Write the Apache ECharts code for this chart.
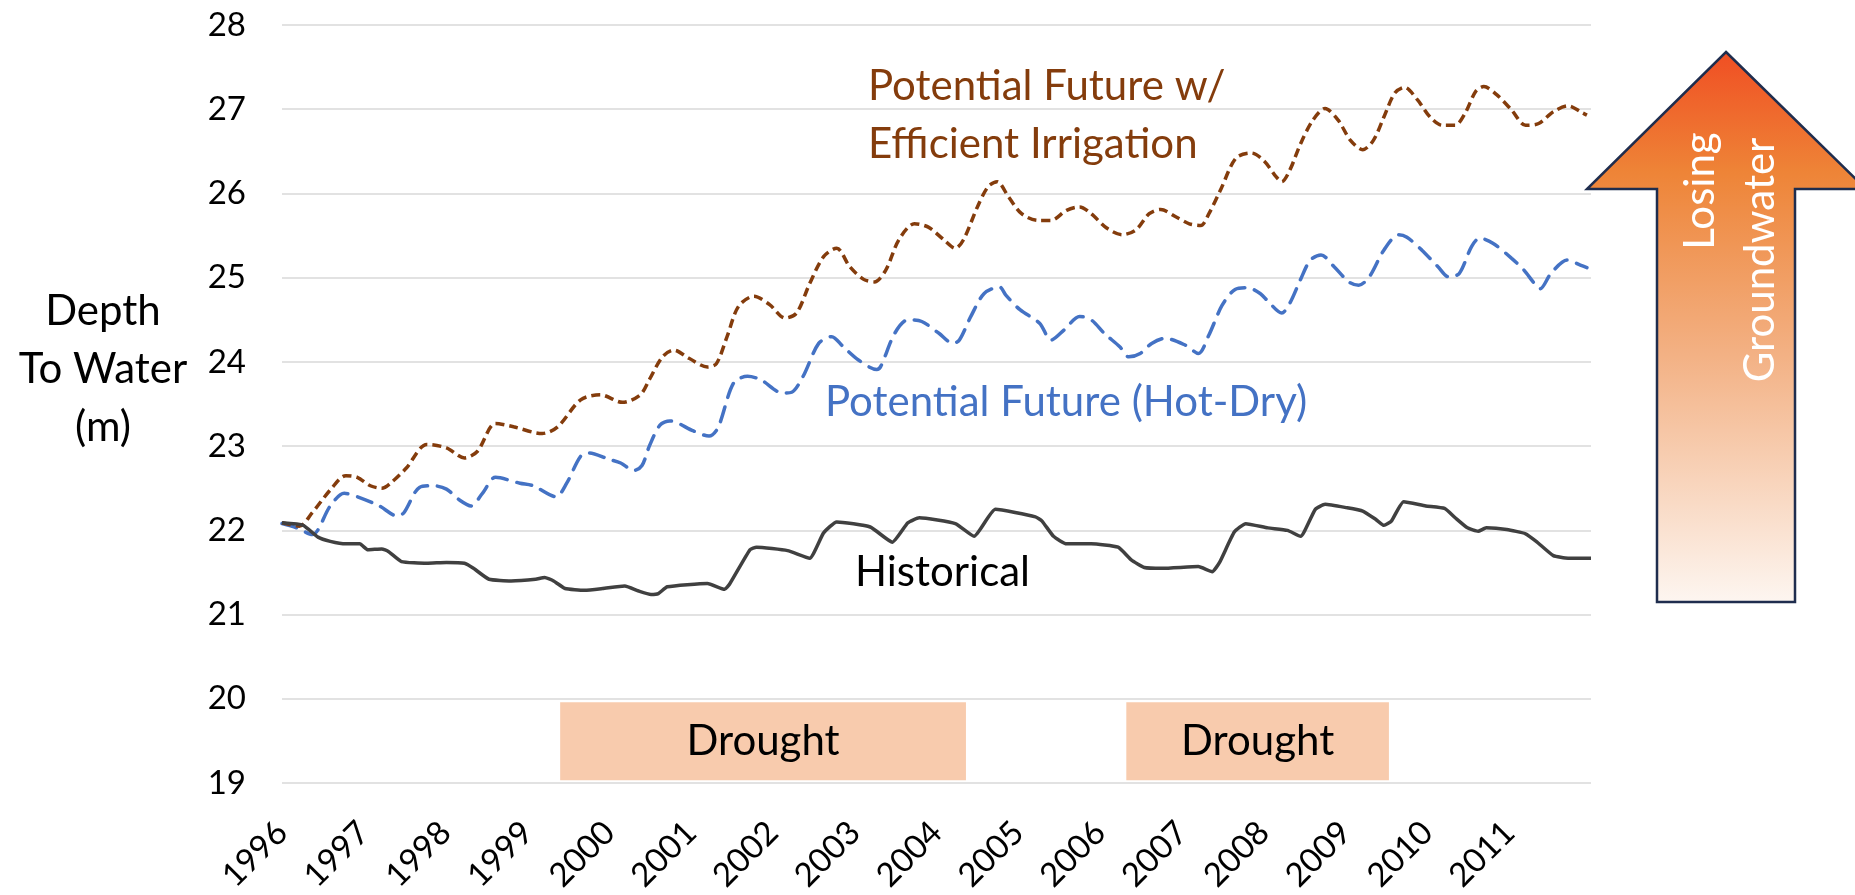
<!DOCTYPE html>
<html>
<head>
<meta charset="utf-8">
<title>Depth To Water</title>
<script src="https://cdn.jsdelivr.net/npm/echarts@6/dist/echarts.min.js"></script>
<style>
  html, body { margin: 0; padding: 0; background: #fff; }
  #chart { width: 1855px; height: 895px; }
</style>
</head>
<body>
<div id="chart"></div>
<script>
// tick labels on the time axis
const yearLabels = ['1996', '1997', '1998', '1999', '2000', '2001', '2002', '2003',
  '2004', '2005', '2006', '2007', '2008', '2009', '2010', '2011'];

// Historical depth to water (m), x in decimal years
const histX = [1996.00, 1996.26, 1996.44, 1996.59, 1996.78, 1996.95, 1997.05, 1997.22, 1997.30, 1997.46,
  1997.77, 1998.01, 1998.23, 1998.34, 1998.53, 1998.80, 1999.10, 1999.21, 1999.32, 1999.46,
  1999.70, 1999.92, 2000.19, 2000.36, 2000.51, 2000.60, 2000.71, 2001.20, 2001.41, 2001.47,
  2001.72, 2001.80, 2002.18, 2002.45, 2002.62, 2002.78, 2003.19, 2003.46, 2003.65, 2003.79,
  2004.23, 2004.46, 2004.72, 2005.21, 2005.29, 2005.43, 2005.59, 2005.89, 2006.22, 2006.38,
  2006.54, 2006.76, 2007.20, 2007.37, 2007.46, 2007.64, 2007.78, 2008.05, 2008.29, 2008.45,
  2008.63, 2008.75, 2009.01, 2009.21, 2009.37, 2009.47, 2009.56, 2009.71, 2009.98, 2010.21,
  2010.34, 2010.49, 2010.62, 2010.72, 2010.97, 2011.20, 2011.33, 2011.54, 2011.72, 2012.00];
const histDepth = [22.09, 22.06, 21.92, 21.87, 21.84, 21.84, 21.77, 21.78, 21.75, 21.63,
  21.61, 21.62, 21.61, 21.55, 21.42, 21.40, 21.42, 21.44, 21.40, 21.31,
  21.29, 21.31, 21.34, 21.28, 21.24, 21.25, 21.33, 21.37, 21.30, 21.36,
  21.77, 21.80, 21.76, 21.67, 21.97, 22.10, 22.04, 21.86, 22.09, 22.15,
  22.08, 21.93, 22.25, 22.16, 22.11, 21.93, 21.84, 21.84, 21.80, 21.65,
  21.56, 21.55, 21.57, 21.51, 21.62, 21.98, 22.08, 22.03, 22.00, 21.93,
  22.25, 22.31, 22.27, 22.23, 22.13, 22.06, 22.11, 22.34, 22.29, 22.26,
  22.15, 22.03, 21.99, 22.03, 22.01, 21.96, 21.87, 21.70, 21.67, 21.67];

// Potential future (hot-dry)
const hotDryX = [1996.00, 1996.18, 1996.37, 1996.59, 1996.76, 1996.92, 1997.19, 1997.41, 1997.49, 1997.68,
  1997.85, 1998.01, 1998.17, 1998.31, 1998.45, 1998.61, 1998.91, 1999.07, 1999.35, 1999.48,
  1999.65, 1999.76, 1999.98, 2000.14, 2000.30, 2000.40, 2000.49, 2000.62, 2000.74, 2001.03,
  2001.22, 2001.33, 2001.52, 2001.69, 2001.85, 2002.12, 2002.23, 2002.37, 2002.56, 2002.72,
  2002.86, 2003.05, 2003.27, 2003.32, 2003.49, 2003.65, 2003.82, 2004.03, 2004.20, 2004.28,
  2004.42, 2004.58, 2004.77, 2004.85, 2005.02, 2005.26, 2005.40, 2005.56, 2005.75, 2005.89,
  2006.05, 2006.24, 2006.35, 2006.49, 2006.63, 2006.79, 2007.04, 2007.20, 2007.33, 2007.49,
  2007.65, 2007.80, 2007.96, 2008.06, 2008.22, 2008.32, 2008.45, 2008.57, 2008.70, 2008.86,
  2009.04, 2009.16, 2009.29, 2009.47, 2009.65, 2009.75, 2009.93, 2010.13, 2010.26, 2010.39,
  2010.54, 2010.64, 2010.80, 2011.03, 2011.18, 2011.31, 2011.38, 2011.51, 2011.71, 2011.87, 2011.95];
const hotDryDepth = [22.08, 22.03, 21.95, 22.29, 22.44, 22.40, 22.29, 22.17, 22.21, 22.51,
  22.53, 22.49, 22.36, 22.29, 22.44, 22.63, 22.56, 22.53, 22.40, 22.56,
  22.88, 22.92, 22.85, 22.80, 22.71, 22.77, 23.00, 23.25, 23.30, 23.18,
  23.12, 23.22, 23.75, 23.83, 23.79, 23.63, 23.64, 23.83, 24.22, 24.30,
  24.18, 24.02, 23.91, 23.95, 24.34, 24.50, 24.48, 24.34, 24.22, 24.26,
  24.54, 24.81, 24.89, 24.79, 24.62, 24.46, 24.26, 24.38, 24.54, 24.50,
  24.34, 24.18, 24.06, 24.10, 24.22, 24.28, 24.20, 24.10, 24.32, 24.67,
  24.86, 24.88, 24.81, 24.71, 24.58, 24.70, 24.98, 25.21, 25.27, 25.13,
  24.95, 24.91, 25.01, 25.33, 25.51, 25.48, 25.33, 25.13, 25.01, 25.05,
  25.37, 25.47, 25.41, 25.23, 25.09, 24.93, 24.87, 25.05, 25.21, 25.15, 25.12];

// Potential future w/ efficient irrigation
const effX = [1996.00, 1996.21, 1996.37, 1996.59, 1996.78, 1996.92, 1997.08, 1997.22, 1997.35, 1997.52,
  1997.77, 1998.01, 1998.23, 1998.39, 1998.61, 1998.83, 1999.18, 1999.37, 1999.65, 1999.89,
  2000.16, 2000.38, 2000.49, 2000.65, 2000.79, 2000.98, 2001.20, 2001.31, 2001.44, 2001.58,
  2001.77, 2001.96, 2002.15, 2002.29, 2002.45, 2002.62, 2002.78, 2002.94, 2003.11, 2003.24,
  2003.38, 2003.54, 2003.73, 2003.90, 2004.09, 2004.23, 2004.33, 2004.50, 2004.63, 2004.74,
  2004.88, 2005.04, 2005.24, 2005.40, 2005.59, 2005.75, 2005.89, 2006.08, 2006.27, 2006.44,
  2006.60, 2006.74, 2006.93, 2007.09, 2007.23, 2007.33, 2007.48, 2007.66, 2007.85, 2008.01,
  2008.15, 2008.22, 2008.32, 2008.45, 2008.60, 2008.75, 2008.91, 2009.06, 2009.21, 2009.34,
  2009.47, 2009.60, 2009.72, 2009.88, 2010.03, 2010.18, 2010.34, 2010.46, 2010.59, 2010.69,
  2010.85, 2011.03, 2011.20, 2011.36, 2011.54, 2011.72, 2011.89, 2011.95];
const effDepth = [22.09, 22.05, 22.21, 22.48, 22.65, 22.63, 22.53, 22.50, 22.58, 22.74,
  23.02, 22.98, 22.86, 22.94, 23.27, 23.23, 23.15, 23.23, 23.55, 23.61,
  23.52, 23.61, 23.79, 24.06, 24.14, 24.04, 23.94, 23.98, 24.30, 24.66,
  24.78, 24.68, 24.52, 24.58, 24.93, 25.25, 25.35, 25.13, 24.98, 24.95,
  25.09, 25.45, 25.64, 25.60, 25.45, 25.35, 25.45, 25.84, 26.08, 26.14,
  25.96, 25.76, 25.68, 25.68, 25.80, 25.84, 25.76, 25.59, 25.51, 25.57,
  25.76, 25.81, 25.72, 25.64, 25.62, 25.76, 26.06, 26.42, 26.48, 26.38,
  26.20, 26.14, 26.28, 26.59, 26.87, 27.01, 26.87, 26.63, 26.52, 26.63,
  26.91, 27.19, 27.26, 27.11, 26.91, 26.81, 26.81, 26.95, 27.21, 27.27,
  27.17, 26.99, 26.81, 26.83, 26.97, 27.04, 26.96, 26.93];

// drought periods (decimal years)
const droughtStart = [1999.40, 2006.32];
const droughtEnd = [2004.36, 2009.53];

const FONT = 'Lato';
const pair = (xs, ys) => xs.map((x, i) => [x, ys[i]]);

const chart = echarts.init(document.getElementById('chart'));

const bigText = (text, x, y, color, extra) => ({
  type: 'text',
  x: x,
  y: y,
  silent: true,
  style: Object.assign({
    text: text,
    fill: color,
    fontSize: 42,
    fontFamily: FONT,
    align: 'left',
    verticalAlign: 'middle'
  }, extra || {})
});

const option = {
  animation: false,
  grid: { left: 282, right: 264, top: 25, bottom: 111 },
  xAxis: {
    type: 'value',
    min: 1996,
    max: 2012,
    interval: 1,
    axisLine: { show: false },
    axisTick: { show: false },
    splitLine: { show: false },
    axisLabel: {
      rotate: 45,
      margin: 44,
      fontSize: 33,
      fontFamily: FONT,
      color: '#000',
      formatter: v => yearLabels[v - 1996] || ''
    }
  },
  yAxis: {
    type: 'value',
    min: 19,
    max: 28,
    interval: 1,
    axisLine: { show: false },
    axisTick: { show: false },
    axisLabel: { margin: 36, fontSize: 33, fontFamily: FONT, color: '#000' },
    splitLine: { lineStyle: { color: '#d9d9d9', width: 1.5 } }
  },
  series: [
    {
      name: 'Historical',
      type: 'line',
      data: pair(histX, histDepth),
      showSymbol: false,
      smooth: 0.15,
      lineStyle: { color: '#404040', width: 3.5 },
      z: 4,
      markArea: {
        silent: true,
        itemStyle: { color: '#f8cbad' },
        label: {
          show: true,
          position: 'inside',
          formatter: 'Drought',
          fontSize: 42,
          fontFamily: FONT,
          color: '#000'
        },
        data: droughtStart.map((s, i) => [
          { xAxis: s, yAxis: 19.035 },
          { xAxis: droughtEnd[i], yAxis: 19.96 }
        ])
      }
    },
    {
      name: 'Potential Future (Hot-Dry)',
      type: 'line',
      data: pair(hotDryX, hotDryDepth),
      showSymbol: false,
      smooth: 0.3,
      lineStyle: { color: '#4472c4', width: 3.5, type: [15, 10], cap: 'round' },
      z: 3
    },
    {
      name: 'Potential Future w/ Efficient Irrigation',
      type: 'line',
      data: pair(effX, effDepth),
      showSymbol: false,
      smooth: 0.3,
      lineStyle: { color: '#843c0c', width: 3.5, type: [9, 5] },
      z: 3
    }
  ],
  graphic: [
    // y axis title
    bigText('Depth', 103, 311, '#000', { align: 'center' }),
    bigText('To Water', 103, 369, '#000', { align: 'center' }),
    bigText('(m)', 103, 427, '#000', { align: 'center' }),
    // series annotations
    bigText('Potential Future w/', 868, 86, '#843c0c'),
    bigText('Efficient Irrigation', 868, 144, '#843c0c'),
    bigText('Potential Future (Hot-Dry)', 825, 402, '#4472c4'),
    bigText('Historical', 855, 572, '#000'),
    // "losing groundwater" arrow
    {
      type: 'polygon',
      silent: true,
      shape: {
        points: [[1726, 52], [1866, 189], [1795, 189], [1795, 602],
          [1657, 602], [1657, 189], [1587, 189]]
      },
      style: {
        fill: new echarts.graphic.LinearGradient(0, 0, 0, 1, [
          { offset: 0, color: '#f04e23' },
          { offset: 0.22, color: '#ee8437' },
          { offset: 0.55, color: '#f3b184' },
          { offset: 1, color: '#fdf6f1' }
        ]),
        stroke: '#1f2d4e',
        lineWidth: 2.5
      }
    },
    bigText('Losing', 1700, 191, '#fff', { align: 'center' }),
    bigText('Groundwater', 1760, 260, '#fff', { align: 'center' })
  ]
};

// rotate the two arrow labels to read bottom-to-top
option.graphic[option.graphic.length - 2].rotation = Math.PI / 2;
option.graphic[option.graphic.length - 1].rotation = Math.PI / 2;

chart.setOption(option);
window.addEventListener('resize', () => chart.resize());
</script>
</body>
</html>
